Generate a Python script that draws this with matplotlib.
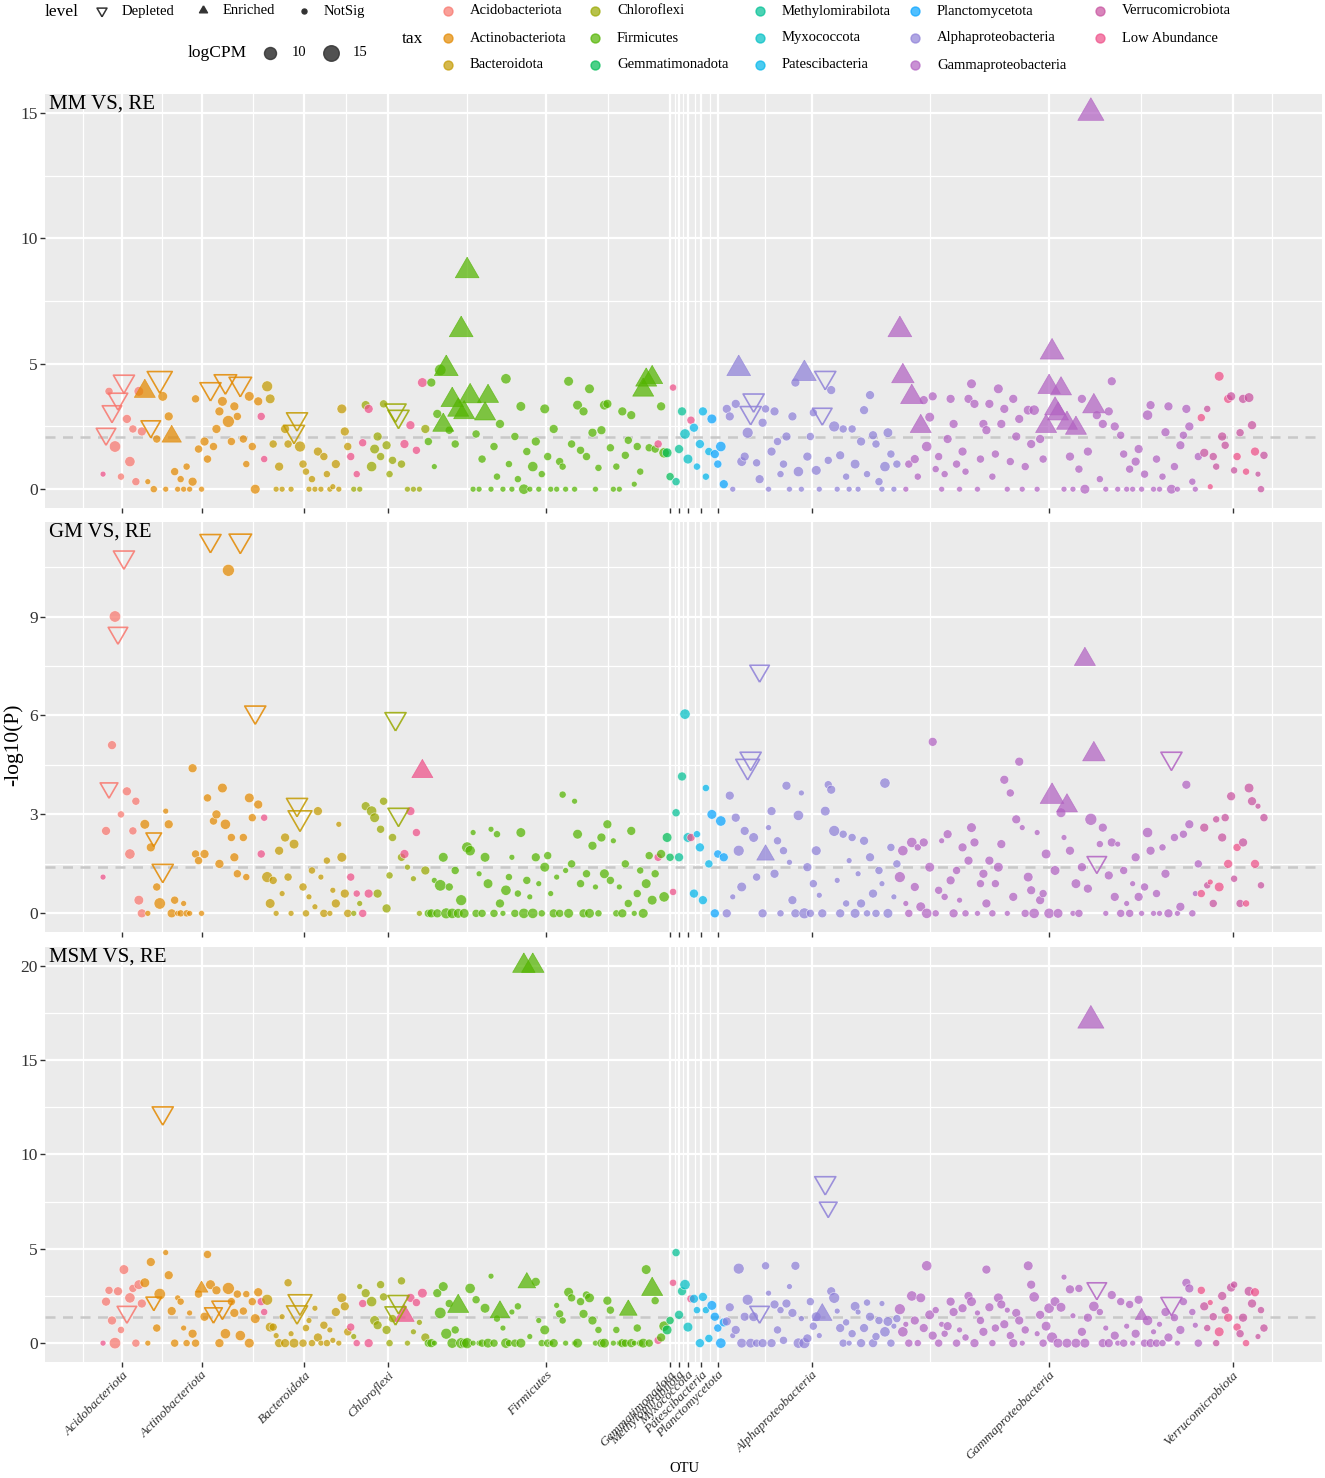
import numpy as np
import matplotlib
matplotlib.use('Agg')
import matplotlib.pyplot as plt

plt.rcParams['font.family'] = ['Liberation Serif', 'DejaVu Serif']

# ---- taxa, in x order
taxa = ['Acidobacteriota', 'Actinobacteriota', 'Bacteroidota', 'Chloroflexi', 'Firmicutes',
        'Gemmatimonadota', 'Methylomirabilota', 'Myxococcota', 'Patescibacteria', 'Planctomycetota',
        'Alphaproteobacteria', 'Gammaproteobacteria', 'Verrucomicrobiota']
tax_n = [14, 39, 30, 26, 80, 3, 3, 3, 6, 5, 58, 101, 22]
tax_cols = ['#F8766D', '#E38900', '#C49A00', '#99A800', '#53B400', '#00BC56', '#00C094',
            '#00BFC4', '#00B6EB', '#06A4FF', '#8E80D8', '#B262C2', '#C8519F']
low_label = 'Low Abundance'
low_col = '#EE4F88'
# OTUs coloured as Low Abundance
low_idx = [0, 53, 54, 83, 85, 87, 89, 101, 103, 105, 107, 186, 191, 197,
           368, 371, 374, 377, 380, 383, 386]

logcpm = {
    'Acidobacteriota': [6, 9, 8, 9, 13, 9, 7, 10, 9, 11, 8, 8, 10, 9],
    'Actinobacteriota': [10, 6, 9, 7, 8, 13, 10, 6, 9, 9, 8, 6, 7, 6, 7, 6, 9, 8, 8, 6,
                         9, 8, 10, 8, 9, 9, 10, 11, 14, 8, 9, 8, 11, 8, 7, 10, 8, 10, 9],
    'Bacteroidota': [8, 7, 12, 10, 8, 6, 9, 6, 9, 8, 6, 10, 10, 12, 8, 7, 6, 7, 6, 9,
                     6, 8, 7, 6, 6, 9, 6, 10, 9, 8],
    'Chloroflexi': [8, 6, 7, 6, 8, 9, 9, 11, 10, 9, 8, 8, 9, 7, 8, 10, 10, 8, 9, 6, 9, 6, 8, 6, 10, 9],
    'Firmicutes': [8, 9, 6, 9, 13, 10, 12, 8, 11, 8, 10, 12, 10, 12, 11, 6, 8, 6, 8, 10,
                   10, 6, 8, 7, 9, 6, 11, 7, 6, 8, 7, 10, 11, 8, 6, 11, 9, 6, 7, 10,
                   8, 6, 9, 6, 8, 7, 6, 10, 8, 6, 10, 8, 9, 8, 10, 9, 6, 7, 9, 10,
                   9, 8, 6, 7, 6, 9, 8, 8, 9, 6, 8, 7, 10, 10, 8, 10, 8, 8, 9, 11],
    'Gemmatimonadota': [10, 8, 7],
    'Methylomirabilota': [8, 9, 9],
    'Myxococcota': [11, 10, 8],
    'Patescibacteria': [9, 7, 9, 9, 7, 8],
    'Planctomycetota': [10, 9, 8, 11, 9],
    'Alphaproteobacteria': [9, 9, 6, 9, 12, 10, 9, 12, 10, 10, 8, 9, 9, 8, 6, 9, 9, 8, 7, 8,
                            9, 6, 9, 9, 11, 6, 12, 9, 8, 8, 10, 6, 9, 10, 8, 9, 12, 6, 9, 8,
                            7, 6, 8, 10, 6, 9, 9, 7, 9, 9, 8, 8, 6, 11, 10, 8, 6, 8],
    'Gammaproteobacteria': [12, 11, 6, 8, 11, 9, 7, 10, 9, 11, 10, 9, 7, 8, 6, 7, 9, 9, 9, 8,
                            6, 9, 7, 9, 10, 9, 6, 8, 9, 9, 9, 7, 8, 10, 9, 9, 6, 8, 9, 9,
                            9, 6, 8, 10, 9, 11, 6, 9, 8, 10, 11, 12, 10, 10, 10, 6, 10, 9, 6, 10,
                            8, 9, 10, 9, 14, 11, 9, 7, 9, 6, 9, 9, 9, 6, 8, 8, 6, 8, 6, 9,
                            9, 6, 8, 11, 9, 6, 8, 6, 7, 9, 9, 10, 8, 6, 9, 8, 9, 9, 7, 6, 8],
    'Verrucomicrobiota': [8, 9, 7, 6, 8, 7, 10, 9, 8, 9, 9, 7, 8, 8, 9, 7, 10, 9, 9, 6, 7, 8],
}

# ---- -log10(P), MM vs RE
mm_y = {
    'Acidobacteriota': [0.6, 2.2, 3.9, 3.1, 1.7, 3.6, 0.5, 4.3, 2.8, 1.1, 2.4, 0.3, 3.9, 2.3],
    'Actinobacteriota': [3.9, 0.3, 2.5, 0.0, 2.0, 4.4, 3.7, 0.0, 2.9, 2.1, 0.7, 0.0, 0.4, 0.0, 0.9,
                         0.0, 0.3, 3.6, 1.6, 0.0, 1.9, 1.2, 4.0, 1.7, 2.4, 3.1, 3.5, 4.3, 2.7, 1.9,
                         3.3, 2.9, 4.2, 2.0, 1.0, 3.7, 1.7, 0.0, 3.5],
    'Bacteroidota': [2.9, 1.2, 4.1, 3.6, 1.8, 0.0, 0.9, 0.0, 2.4, 1.8, 0.0, 2.3, 2.8, 1.7, 1.0,
                     0.7, 0.0, 0.4, 0.0, 1.5, 0.0, 1.3, 0.6, 0.0, 0.1, 1.0, 0.0, 3.2, 2.3, 1.7],
    'Chloroflexi': [1.3, 0.0, 0.6, 0.0, 1.85, 3.35, 3.2, 0.9, 1.6, 2.1, 1.3, 3.4, 1.75, 0.6, 1.15,
                    3.15, 2.9, 1.0, 1.8, 0.0, 2.55, 0.0, 1.55, 0.0, 4.25, 2.4],
    'Firmicutes': [1.9, 4.25, 0.9, 3.0, 4.75, 2.55, 4.8, 2.35, 3.55, 1.8,
                   3.15, 6.35, 3.05, 8.7, 3.7, 0.0, 2.2, 0.0, 1.2, 3.0,
                   3.7, 0.0, 1.7, 0.5, 2.6, 0.0, 4.4, 1.0, 0.0, 2.1,
                   0.4, 3.3, 0.0, 1.5, 0.0, 0.9, 1.9, 0.0, 0.6, 3.2,
                   1.3, 0.0, 2.4, 0.0, 1.1, 0.9, 0.0, 4.3, 1.8, 0.0,
                   3.35, 1.55, 3.1, 1.3, 4.0, 2.25, 0.0, 0.85, 2.35, 3.35,
                   3.4, 1.65, 0.0, 0.9, 0.0, 3.1, 1.35, 1.95, 2.95, 0.2,
                   1.7, 0.7, 3.95, 4.35, 1.65, 4.45, 1.6, 1.8, 3.3, 1.45],
    'Gemmatimonadota': [1.45, 0.5, 4.05],
    'Methylomirabilota': [0.3, 1.6, 3.1],
    'Myxococcota': [2.2, 1.2, 2.75],
    'Patescibacteria': [2.45, 0.9, 1.8, 3.1, 0.5, 1.5],
    'Planctomycetota': [2.8, 1.4, 1.0, 1.7, 0.2],
    'Alphaproteobacteria': [3.2, 2.9, 0.0, 3.4, 4.8, 1.1, 1.3, 2.25, 3.05, 3.55,
                            1.05, 0.4, 2.65, 3.2, 0.0, 1.5, 3.1, 1.9, 0.6, 1.0,
                            2.1, 0.0, 2.9, 4.25, 0.7, 0.0, 4.6, 1.3, 2.1, 3.05,
                            0.75, 0.0, 3.0, 4.45, 1.15, 3.95, 2.5, 0.0, 1.35, 2.4,
                            0.5, 0.0, 2.4, 1.0, 0.0, 1.9, 3.15, 0.6, 3.75, 2.15,
                            1.8, 0.3, 0.0, 0.9, 2.25, 1.4, 0.0, 1.0],
    'Gammaproteobacteria': [6.35, 4.5, 0.0, 1.0, 3.67, 1.2, 0.5, 2.5, 3.55, 1.7,
                            2.87, 3.7, 0.8, 1.3, 0.0, 0.6, 2.0, 3.6, 2.6, 1.0,
                            0.0, 1.5, 0.7, 3.6, 4.2, 3.4, 0.0, 1.2, 2.6, 2.35,
                            3.4, 0.5, 1.4, 4.0, 2.6, 3.2, 0.0, 1.1, 3.6, 2.1,
                            2.8, 0.0, 0.9, 3.15, 1.8, 3.15, 0.0, 2.0, 1.2, 2.5,
                            4.07, 5.46, 3.2, 3.0, 4.0, 0.0, 2.63, 1.3, 0.0, 2.43,
                            0.8, 3.6, 0.0, 1.5, 15.0, 3.3, 2.95, 0.4, 2.6, 0.0,
                            3.1, 4.3, 2.5, 0.0, 2.15, 1.4, 0.0, 0.8, 0.0, 1.1,
                            1.6, 0.0, 0.6, 2.95, 3.35, 0.0, 1.2, 0.0, 0.5, 2.27,
                            3.3, 0.0, 0.9, 0.0, 1.75, 2.15, 3.2, 2.5, 0.3, 0.0, 1.3],
    'Verrucomicrobiota': [2.85, 1.45, 3.2, 0.1, 1.3, 0.9, 4.5, 2.1, 1.75, 3.6, 3.7, 0.75, 1.3,
                          2.25, 3.6, 0.7, 3.65, 2.55, 1.5, 0.6, 0.0, 1.35],
}
mm_enr = [14, 23, 114, 115, 117, 119, 120, 121, 122, 123, 128, 129, 181, 182, 184,
          213, 235, 267, 268, 271, 274, 316, 317, 318, 319, 320, 321, 323, 326, 331, 332]
mm_dep = [1, 3, 5, 7, 16, 19, 36, 41, 46, 64, 65, 98, 99, 217, 218, 241, 242]
mm_cut = 2.09

# ---- -log10(P), GM vs RE
gm_y = {
    'Acidobacteriota': [1.1, 2.5, 3.8, 5.1, 9.0, 8.5, 3.0, 10.8, 3.7, 1.8, 2.5, 3.4, 0.4, 0.0],
    'Actinobacteriota': [2.7, 0.0, 2.0, 2.3, 0.8, 0.3, 1.3, 3.1, 2.7, 0.0, 0.4, 0.0, 0.0, 0.3, 0.0,
                         0.0, 4.4, 1.8, 1.6, 0.0, 1.8, 3.5, 11.3, 2.8, 3.0, 1.5, 3.8, 2.7, 10.4, 2.3,
                         1.7, 1.2, 11.3, 2.3, 1.1, 3.5, 2.9, 6.1, 3.3],
    'Bacteroidota': [1.8, 2.9, 1.1, 0.3, 1.0, 0.0, 1.9, 0.6, 2.3, 1.1, 0.0, 2.1, 3.3, 2.9, 0.8,
                     0.0, 0.5, 1.3, 0.2, 3.1, 1.1, 0.0, 1.6, 0.0, 0.7, 0.3, 2.7, 1.7, 0.6, 0.0],
    'Chloroflexi': [1.1, 0.0, 0.6, 0.3, 0.0, 3.25, 0.6, 3.1, 2.9, 0.6, 2.55, 3.4, 0.15, 1.15, 2.3,
                    5.9, 3.0, 1.7, 1.8, 1.4, 3.1, 1.05, 2.45, 0.0, 4.3, 1.3],
    'Firmicutes': [0.0, 0.0, 1.0, 0.0, 0.85, 1.7, 0.0, 0.8, 0.0, 1.3,
                   0.0, 0.4, 0.0, 2.0, 1.9, 2.45, 0.0, 1.2, 0.0, 1.7,
                   0.9, 2.55, 0.0, 2.4, 0.3, 0.0, 0.7, 1.1, 1.7, 0.0,
                   0.6, 2.45, 0.0, 1.0, 0.5, 0.0, 1.7, 0.9, 0.0, 1.4,
                   1.75, 0.6, 0.0, 1.1, 0.0, 3.6, 1.3, 0.0, 1.5, 3.4,
                   2.4, 0.9, 0.0, 1.2, 0.0, 2.05, 0.8, 0.0, 2.3, 1.2,
                   2.7, 1.0, 2.2, 0.0, 0.8, 0.0, 1.5, 0.3, 2.5, 0.0,
                   0.6, 1.3, 0.0, 0.9, 1.75, 0.4, 1.2, 1.7, 1.8, 0.5],
    'Gemmatimonadota': [2.3, 1.7, 0.65],
    'Methylomirabilota': [3.05, 1.7, 4.15],
    'Myxococcota': [6.04, 2.3, 2.3],
    'Patescibacteria': [0.6, 2.4, 2.0, 0.4, 3.8, 1.5],
    'Planctomycetota': [3.0, 0.0, 1.8, 2.8, 1.7],
    'Alphaproteobacteria': [0.0, 3.57, 0.5, 2.9, 1.9, 0.8, 2.5, 4.46, 4.7, 2.3,
                            1.1, 7.35, 0.0, 1.77, 2.6, 3.1, 1.2, 2.2, 0.0, 1.9,
                            3.87, 1.55, 0.4, 0.0, 2.97, 3.65, 0.0, 1.4, 0.0, 0.9,
                            1.9, 0.55, 0.0, 3.1, 3.9, 3.75, 2.5, 1.0, 0.0, 2.4,
                            0.3, 1.6, 2.3, 0.0, 1.2, 0.3, 2.2, 0.0, 1.7, 0.6,
                            0.0, 1.3, 0.9, 3.95, 0.0, 2.0, 0.5, 1.5],
    'Gammaproteobacteria': [1.1, 1.9, 0.3, 0.0, 2.15, 0.8, 2.0, 0.2, 2.15, 0.0,
                            1.4, 5.2, 0.0, 0.7, 2.2, 0.5, 2.4, 1.0, 0.0, 1.3,
                            0.4, 2.0, 0.0, 1.6, 2.6, 2.15, 0.0, 0.9, 1.2, 0.3,
                            1.6, 0.0, 0.9, 1.4, 2.1, 4.05, 0.0, 3.65, 0.5, 2.85,
                            4.6, 2.6, 0.0, 1.1, 0.7, 0.0, 2.45, 0.4, 0.6, 1.8,
                            0.0, 3.54, 1.3, 0.0, 3.05, 2.3, 3.26, 1.9, 0.0, 0.9,
                            0.0, 1.4, 7.7, 0.75, 2.85, 4.82, 1.55, 2.1, 2.6, 0.0,
                            1.15, 2.15, 0.5, 2.1, 0.0, 1.3, 0.3, 0.0, 0.9, 1.7,
                            0.5, 0.0, 0.8, 2.45, 1.9, 0.0, 0.6, 0.0, 2.0, 1.2,
                            0.0, 4.7, 2.3, 0.0, 0.2, 2.4, 3.9, 2.7, 0.0, 0.6, 1.5],
    'Verrucomicrobiota': [0.6, 2.6, 0.85, 0.95, 0.3, 2.85, 0.8, 2.3, 2.9, 1.5, 3.55, 1.05, 2.0,
                          0.3, 2.15, 0.3, 3.8, 3.4, 1.5, 3.25, 0.85, 2.9],
}
gm_enr = [107, 222, 318, 323, 329, 332]
gm_dep = [2, 5, 7, 17, 20, 36, 46, 51, 65, 66, 98, 99, 216, 217, 220, 333, 358]
gm_cut = 1.40

# ---- -log10(P), MSM vs RE
msm_y = {
    'Acidobacteriota': [0.0, 2.2, 2.8, 1.2, 0.0, 2.75, 0.7, 3.9, 1.65, 2.4, 2.9, 0.0, 3.1, 2.1],
    'Actinobacteriota': [3.2, 0.0, 4.3, 2.2, 0.8, 2.6, 12.2, 4.8, 3.6, 1.7, 0.0, 2.4, 2.2, 0.8, 0.0,
                         1.6, 0.5, 0.0, 2.6, 2.9, 1.4, 4.7, 3.1, 1.6, 2.8, 0.0, 1.9, 0.5, 2.9, 2.2,
                         1.6, 2.6, 0.4, 1.7, 2.6, 0.0, 2.2, 1.3, 2.7],
    'Bacteroidota': [2.2, 1.65, 2.3, 0.85, 0.85, 0.4, 0.0, 1.4, 0.0, 3.2, 0.5, 0.0, 1.65, 2.2, 0.0,
                     0.8, 1.2, 0.0, 1.85, 0.3, 0.0, 0.95, 0.0, 0.7, 0.15, 1.65, 0.0, 2.4, 1.95, 0.6],
    'Chloroflexi': [0.85, 0.35, 0.0, 3.0, 2.1, 2.65, 0.0, 2.2, 1.2, 0.95, 3.1, 2.45, 0.7, 0.0, 1.3,
                    1.6, 2.2, 3.3, 1.45, 0.0, 2.4, 0.6, 2.15, 1.1, 2.65, 0.3],
    'Firmicutes': [0.0, 0.0, 0.0, 2.65, 1.6, 3.0, 0.5, 2.1, 0.0, 0.7,
                   1.95, 0.0, 0.0, 0.0, 2.9, 0.0, 2.3, 0.0, 0.0, 1.85,
                   0.0, 3.55, 0.0, 1.3, 1.65, 0.8, 0.0, 0.0, 1.65, 0.0,
                   1.95, 0.0, 20.0, 3.2, 0.35, 20.0, 3.25, 1.2, 0.0, 0.7,
                   0.0, 0.0, 0.0, 2.0, 1.55, 1.2, 0.0, 2.7, 2.4, 0.0,
                   0.0, 2.2, 1.55, 2.55, 2.4, 1.2, 0.0, 0.7, 0.0, 0.0,
                   2.25, 1.75, 0.0, 0.7, 0.0, 0.0, 0.0, 1.75, 0.0, 0.0,
                   0.8, 0.0, 0.0, 3.9, 0.0, 2.85, 2.25, 0.15, 0.3, 0.9],
    'Gemmatimonadota': [0.7, 1.2, 3.2],
    'Methylomirabilota': [4.8, 1.5, 2.75],
    'Myxococcota': [3.1, 0.85, 2.35],
    'Patescibacteria': [2.35, 1.75, 0.0, 2.45, 1.75, 0.25],
    'Planctomycetota': [2.0, 1.4, 0.8, 0.0, 1.1],
    'Alphaproteobacteria': [1.15, 1.9, 0.4, 0.7, 3.95, 0.0, 1.4, 2.3, 0.0, 1.4,
                            0.0, 1.65, 0.0, 4.1, 2.65, 0.0, 2.05, 0.7, 1.75, 0.15,
                            2.1, 3.0, 1.6, 4.1, 0.0, 1.3, 0.0, 0.25, 2.2, 0.9,
                            1.4, 0.4, 1.5, 8.5, 7.2, 2.75, 2.4, 1.7, 0.8, 0.0,
                            1.1, 0.0, 0.5, 1.95, 1.65, 0.0, 0.8, 2.15, 1.4, 0.0,
                            0.35, 1.2, 2.1, 0.6, 1.15, 0.0, 0.9, 1.3],
    'Gammaproteobacteria': [1.8, 0.6, 1.0, 0.0, 2.5, 1.2, 0.0, 2.4, 0.8, 4.1,
                            1.5, 0.4, 1.75, 0.0, 1.0, 0.5, 0.9, 2.2, 1.65, 0.0,
                            0.7, 1.85, 0.3, 2.5, 2.2, 0.0, 1.6, 1.2, 0.6, 3.9,
                            1.9, 0.0, 0.8, 2.4, 2.05, 1.0, 1.75, 0.4, 0.0, 1.6,
                            1.2, 0.0, 0.7, 4.1, 3.1, 2.45, 0.5, 1.5, 0.0, 0.9,
                            1.85, 0.3, 2.2, 0.0, 1.9, 3.5, 0.0, 2.85, 1.45, 0.0,
                            2.9, 0.6, 0.0, 1.35, 17.1, 1.95, 2.9, 1.65, 0.0, 0.8,
                            0.0, 2.55, 0.4, 0.0, 2.2, 0.0, 0.9, 2.05, 0.0, 0.5,
                            2.3, 1.45, 0.0, 1.2, 0.0, 0.6, 0.0, 1.0, 0.0, 1.65,
                            0.3, 2.1, 1.35, 0.0, 0.7, 2.2, 3.2, 2.9, 1.65, 0.95, 0.0],
    'Verrucomicrobiota': [2.8, 1.95, 0.8, 2.15, 1.4, 0.0, 0.6, 2.5, 1.75, 1.35, 2.95, 3.1, 0.85,
                          0.5, 1.35, 0.0, 2.75, 2.1, 2.7, 0.35, 1.75, 0.8],
}
msm_enr = [33, 101, 119, 133, 141, 142, 144, 176, 184, 241, 331, 348]
msm_dep = [8, 17, 20, 37, 40, 65, 66, 98, 99, 220, 242, 243, 333, 358]
msm_cut = 1.38

panels = [('MM VS, RE', mm_y, mm_enr, mm_dep, mm_cut, 5),
          ('GM VS, RE', gm_y, gm_enr, gm_dep, gm_cut, 3),
          ('MSM VS, RE', msm_y, msm_enr, msm_dep, msm_cut, 5)]

for t, n in zip(taxa, tax_n):
    assert len(logcpm[t]) == n, t
    for p in panels:
        assert len(p[1][t]) == n, (p[0], t)

# ---- per-OTU arrays
n_otu = sum(tax_n)
x_all = np.arange(n_otu)
tax_id = np.repeat(np.arange(len(taxa)), tax_n)
lc_all = np.concatenate([logcpm[t] for t in taxa]).astype(float)
cols = np.array([tax_cols[k] for k in tax_id], dtype=object)
cols[low_idx] = low_col
starts = np.cumsum([0] + tax_n[:-1])
tick_pos = starts + (np.array(tax_n) - 1) / 2.0

DPI = 100
W, H = 1325, 1478
PT = 72.0 / DPI


def diam(lc):
    # point diameter in px, sqrt (area) scaling of logCPM
    return 3.5 + 13.2 * np.sqrt(np.clip((np.asarray(lc, float) - 5) / 12.0, 0, 1))


up_tri = [(0, 0.577), (-0.5, -0.289), (0.5, -0.289), (0, 0.577)]
down_tri = [(0, -0.577), (-0.5, 0.289), (0.5, 0.289), (0, -0.577)]

fig = plt.figure(figsize=(W / DPI, H / DPI), dpi=DPI)


def rect(l, t, r, b):
    return [l / W, 1 - b / H, (r - l) / W, (b - t) / H]


boxes = [(45, 94, 1322, 508), (45, 522, 1322, 932), (45, 947, 1322, 1362)]
xlo, xhi = -0.05 * (n_otu - 1), (n_otu - 1) * 1.05

# minor x breaks the ggplot way
bd = tick_pos[1] - tick_pos[0]
ext = np.concatenate([[tick_pos[0] - bd], tick_pos, [tick_pos[-1] + bd]])
x_minor = (ext[:-1] + ext[1:]) / 2

for k, (title, ydict, enr, dep, cut, ystep) in enumerate(panels):
    ax = fig.add_axes(rect(*boxes[k]))
    ax.set_facecolor('#EBEBEB')
    for s in ax.spines.values():
        s.set_visible(False)

    y_all = np.concatenate([ydict[t] for t in taxa]).astype(float)
    ymax = y_all.max()
    ax.set_xlim(xlo, xhi)
    ax.set_ylim(-0.05 * ymax, 1.05 * ymax)

    yt = np.arange(0, ymax + 1e-9, ystep)
    y_minor = np.arange(ystep / 2.0, 1.05 * ymax, ystep)
    for v in x_minor:
        ax.axvline(v, color='white', lw=0.9, zorder=0)
    for v in y_minor:
        ax.axhline(v, color='white', lw=0.9, zorder=0)
    for v in tick_pos:
        ax.axvline(v, color='white', lw=1.6, zorder=0.5)
    for v in yt:
        ax.axhline(v, color='white', lw=1.6, zorder=0.5)

    ax.axhline(cut, color='#C8C8C8', lw=1.8, ls=(0, (4, 3)), zorder=1)

    level = np.array(['NotSig'] * n_otu, dtype=object)
    level[enr] = 'Enriched'
    level[dep] = 'Depleted'
    d = diam(lc_all)

    m = level == 'NotSig'
    ax.scatter(x_all[m], y_all[m], s=(d[m] * 0.8 * PT) ** 2, c=list(cols[m]),
               alpha=0.72, edgecolors='white', linewidths=0.45, zorder=3)
    m = level == 'Enriched'
    ax.scatter(x_all[m], y_all[m], s=(d[m] * 1.75 / 0.866 * PT) ** 2, c=list(cols[m]),
               marker=up_tri, alpha=0.72, edgecolors=list(cols[m]), linewidths=0.5, zorder=4)
    m = level == 'Depleted'
    ax.scatter(x_all[m], y_all[m], s=(d[m] * 1.75 / 0.866 * PT) ** 2, facecolors='none',
               edgecolors=list(cols[m]), marker=down_tri, alpha=0.85, linewidths=1.2, zorder=4)

    ax.set_yticks(yt)
    ax.set_yticklabels(['%d' % v for v in yt])
    ax.set_xticks(tick_pos)
    ax.tick_params(axis='both', length=3.5, width=1.0, color='#333333', labelsize=12.5,
                   labelcolor='#333333', pad=1.5)
    if k < 2:
        ax.tick_params(axis='x', labelbottom=False)
    else:
        ax.set_xticklabels(taxa, rotation=45, ha='right', va='top', rotation_mode='anchor',
                           fontsize=9.5, style='italic')
    ax.text(0.003, 0.998, title, transform=ax.transAxes, ha='left', va='top',
            fontsize=15, color='black', zorder=6)

fig.text(13 / W, 1 - 745 / H, '-log10(P)', rotation=90, ha='center', va='center', fontsize=15.5)
fig.text(684 / W, 1 - 1468 / H, 'OTU', ha='center', va='center', fontsize=10.5)

# ---- legend strip across the top
lg = fig.add_axes([0, 1 - 90 / H, 1, 90 / H])
lg.set_xlim(0, W)
lg.set_ylim(90, 0)
lg.axis('off')

level_labels = ['Depleted', 'Enriched', 'NotSig']
lg.text(45, 12, 'level', fontsize=12.5, va='center')
lev_x = [102, 203, 304]
lg.scatter([lev_x[0]], [11], s=(10 / 0.866 * PT) ** 2, marker=down_tri, facecolors='none',
           edgecolors='#333333', linewidths=1.1)
lg.scatter([lev_x[1]], [10], s=(8 / 0.866 * PT) ** 2, marker=up_tri, color='#333333')
lg.scatter([lev_x[2]], [11], s=(5 * PT) ** 2, color='#333333')
for xx, lab in zip(lev_x, level_labels):
    lg.text(xx + 20, 11, lab, fontsize=10.5, va='center')

size_breaks = [10, 15]
lg.text(188, 53, 'logCPM', fontsize=12.5, va='center')
for xx, b in zip([270, 331], size_breaks):
    lg.scatter([xx], [53], s=(diam(b) * PT) ** 2, color='#333333', alpha=0.85)
    lg.text(xx + 22, 53, str(b), fontsize=10.5, va='center')

lg.text(402, 39, 'tax', fontsize=12.5, va='center')
leg_names = taxa + [low_label]
leg_cols = tax_cols + [low_col]
col_x = [448, 595, 760, 915, 1100]
row_y = [11, 38, 65]
for i, (name, c) in enumerate(zip(leg_names, leg_cols)):
    cx, ry = col_x[i // 3], row_y[i % 3]
    lg.scatter([cx], [ry], s=(9 * PT) ** 2, color=c, alpha=0.7)
    lg.text(cx + 22, ry, name, fontsize=10.5, va='center')

fig.savefig('out.png', dpi=DPI)
